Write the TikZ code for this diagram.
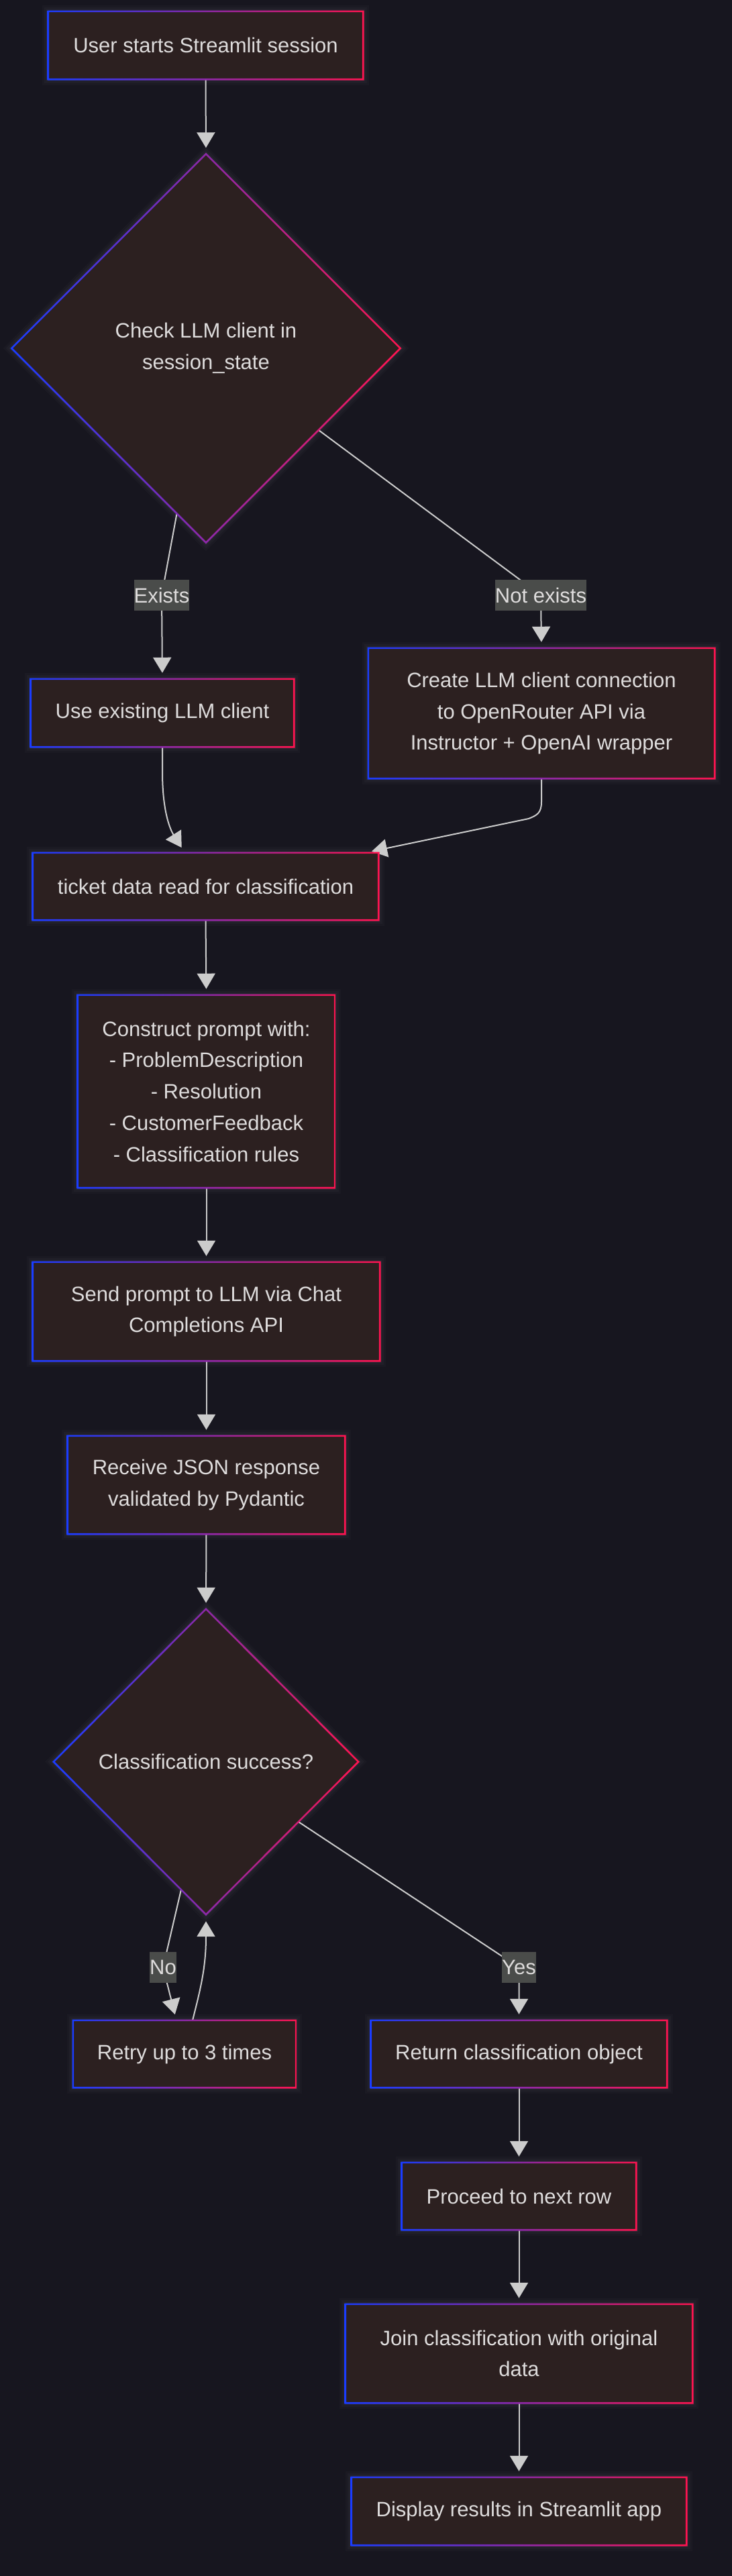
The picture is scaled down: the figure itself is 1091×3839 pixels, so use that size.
\documentclass[tikz,border=0pt]{standalone}
\usepackage{fontspec}
\setmainfont{Liberation Sans}
\usetikzlibrary{shapes.geometric,arrows.meta,calc}
\definecolor{bgc}{HTML}{17161F}
\definecolor{nodefill}{HTML}{2C2020}
\definecolor{cblue}{HTML}{1A3CFF}
\definecolor{cred}{HTML}{FF1450}
\definecolor{txtc}{HTML}{DEDCDC}
\definecolor{edgec}{HTML}{CCCCCC}
\definecolor{labbg}{HTML}{4A4C4A}
\definecolor{glowc}{HTML}{C8C4E0}
\pgfdeclarelayer{glow}
\pgfdeclarelayer{edges}
\pgfdeclarelayer{frames}
\pgfsetlayers{glow,edges,main,frames}
\newcommand\mainfs{\fontsize{31}{46.7}\selectfont}
\newcommand\rframe[1]{%
  \begin{pgfonlayer}{glow}
    \foreach \w/\o in {18/0.025,12/0.03,6/0.04}{
      \draw[glowc, line width=\w pt, opacity=\o] (#1.south west) rectangle (#1.north east);}
  \end{pgfonlayer}
  \begin{pgfonlayer}{frames}
    \shade[left color=cblue, right color=cred, even odd rule]
      ([shift={(-1.3,1.3)}]#1.south west) rectangle ([shift={(1.3,-1.3)}]#1.north east)
      ([shift={(1.3,-1.3)}]#1.south west) rectangle ([shift={(-1.3,1.3)}]#1.north east);
  \end{pgfonlayer}}
\newcommand\dframe[1]{%
  \begin{pgfonlayer}{glow}
    \foreach \w/\o in {18/0.025,12/0.03,6/0.04}{
      \draw[glowc, line width=\w pt, opacity=\o, line join=miter] (#1.north) -- (#1.east) -- (#1.south) -- (#1.west) -- cycle;}
  \end{pgfonlayer}
  \begin{pgfonlayer}{frames}
    \shade[left color=cblue, right color=cred, even odd rule]
      ([shift={(0,-1.8)}]#1.north) -- ([shift={(1.8,0)}]#1.east) -- ([shift={(0,1.8)}]#1.south) -- ([shift={(-1.8,0)}]#1.west) -- cycle
      ([shift={(0,1.8)}]#1.north) -- ([shift={(-1.8,0)}]#1.east) -- ([shift={(0,-1.8)}]#1.south) -- ([shift={(1.8,0)}]#1.west) -- cycle;
  \end{pgfonlayer}}
\tikzset{
  box/.style={rectangle, fill=nodefill, text=txtc, align=center, inner sep=0pt, font=\mainfs},
  dia/.style={diamond, shape aspect=1, fill=nodefill, text=txtc, align=center, inner sep=0pt, font=\mainfs},
  elab/.style={rectangle, fill=labbg, text=txtc, inner xsep=0pt, inner ysep=0pt, minimum height=46pt, font=\mainfs},
  arr/.style={draw=edgec, line width=2pt, -{Triangle[length=23pt,width=27pt]}, shorten >=9pt},
}
\begin{document}
\begin{tikzpicture}[x=1pt,y=-1pt]
\begin{pgfonlayer}{glow}
  \fill[bgc] (0,0) rectangle (1091,3839);
\end{pgfonlayer}
\useasboundingbox (0,0) rectangle (1091,3839);

% nodes
\node[box, minimum width=469pt, minimum height=101pt] (A) at (306.5,67.5) {User starts Streamlit session};
\node[dia, minimum width=579pt, minimum height=579pt] (B) at (307,519) {Check LLM client in\\session\_state};
\node[box, minimum width=392pt, minimum height=101pt] (C) at (242,1062.5) {Use existing LLM client};
\node[box, minimum width=516pt, minimum height=194pt] (D) at (807,1063) {Create LLM client connection\\to OpenRouter API via\\Instructor + OpenAI wrapper};
\node[box, minimum width=515pt, minimum height=100pt] (E) at (306.5,1321) {ticket data read for classification};
\node[box, minimum width=383pt, minimum height=287pt] (F) at (307.5,1626.5) {Construct prompt with:\\- ProblemDescription\\- Resolution\\- CustomerFeedback\\- Classification rules};
\node[box, minimum width=517pt, minimum height=147pt] (G) at (307.5,1954.5) {Send prompt to LLM via Chat\\Completions API};
\node[box, minimum width=413pt, minimum height=146pt] (H) at (307.5,2213) {Receive JSON response\\validated by Pydantic};
\node[dia, minimum width=454pt, minimum height=455pt] (I) at (307,2625.5) {Classification success?};
\node[box, minimum width=332pt, minimum height=100pt] (J) at (275,3061) {Retry up to 3 times};
\node[box, minimum width=441pt, minimum height=100pt] (K) at (773.5,3061) {Return classification object};
\node[box, minimum width=349pt, minimum height=100pt] (L) at (773.5,3273) {Proceed to next row};
\node[box, minimum width=517pt, minimum height=147pt] (M) at (773.5,3507.5) {Join classification with original\\data};
\node[box, minimum width=499pt, minimum height=101pt] (N) at (773.5,3742.5) {Display results in Streamlit app};

% edge labels
\node[elab] (exl) at (241,887) {Exists};
\node[elab] (nel) at (806,887) {Not exists};
\node[elab] (nol) at (243,2932) {No};
\node[elab] (yel) at (773.5,2932) {Yes};

% frames
\rframe{A}\dframe{B}\rframe{C}\rframe{D}\rframe{E}\rframe{F}\rframe{G}\rframe{H}
\dframe{I}\rframe{J}\rframe{K}\rframe{L}\rframe{M}\rframe{N}

% edges
\begin{pgfonlayer}{edges}
\draw[arr] (A.south) -- (B.north);
\draw[arr] (B.-100) -- (exl.center) -- (C.north);
\draw[arr] (B.-36.4) -- (nel.center) -- (D.north);
\draw[arr] (C.south) -- (242,1150) .. controls (242,1215) and (256,1240) .. ($(E.north west)!0.44!(E.north east)$);
\draw[arr, shorten >=10pt] (D.south) -- (807,1195) .. controls (807,1212) and (800,1215) .. (788,1220) -- ($(E.north east)+(-20,0)$);
\draw[arr] (E.south) -- (F.north);
\draw[arr] (F.south) -- (G.north);
\draw[arr] (G.south) -- (H.north);
\draw[arr] (H.south) -- (I.north);
\draw[arr] (I.-101.6) -- (nol.center) -- ($(J.north)+(-12,0)$);
\draw[arr, shorten >=10pt] ($(J.north)+(12,0)$) .. controls (300,2960) and (307,2930) .. (I.south);
\draw[arr] (I.-33.3) -- (yel.center) -- (K.north);
\draw[arr] (K.south) -- (L.north);
\draw[arr] (L.south) -- (M.north);
\draw[arr] (M.south) -- (N.north);
\end{pgfonlayer}
\end{tikzpicture}
\end{document}
